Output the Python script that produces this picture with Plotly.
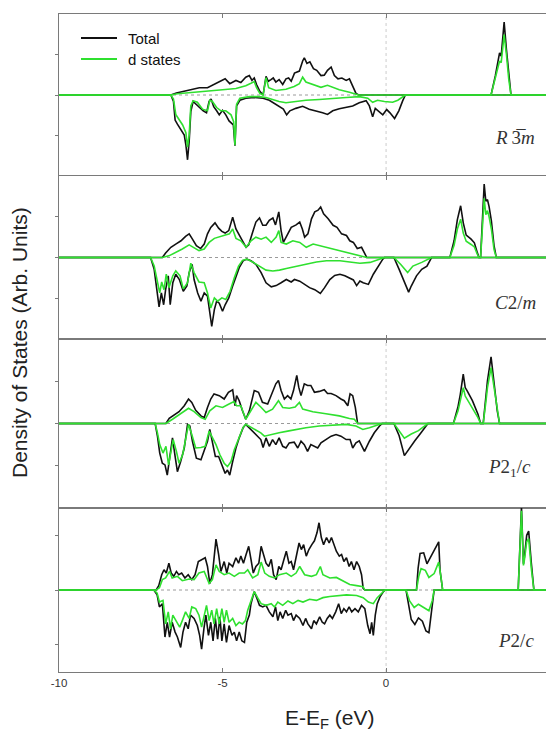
import plotly.graph_objects as go
from plotly.subplots import make_subplots

# ---------------- data: (E - E_F [eV], DOS [arb. units]) ----------------
p1_up_total = [(-10,0),(-6.58,0),(-6.41,0.05),(-6.22,0.09),(-6.02,0.12),(-5.71,0.18),(-5.46,0.18),(-5.26,0.26),(-5.10,0.32),(-4.92,0.40),(-4.78,0.28),(-4.59,0.36),(-4.44,0.31),(-4.29,0.44),(-4.18,0.48),(-4.10,0.36),(-4.03,0.42),(-3.96,0.26),(-3.86,0.09),(-3.76,0),(-3.67,0.46),(-3.60,0.34),(-3.52,0.38),(-3.45,0.42),(-3.37,0.32),(-3.27,0.38),(-3.16,0.26),(-3.06,0.40),(-2.98,0.42),(-2.90,0.34),(-2.80,0.54),(-2.65,0.59),(-2.55,0.84),(-2.50,0.92),(-2.42,0.78),(-2.33,0.82),(-2.22,0.65),(-2.12,0.61),(-1.99,0.48),(-1.89,0.49),(-1.79,0.61),(-1.68,0.69),(-1.58,0.48),(-1.47,0.40),(-1.35,0.42),(-1.22,0.36),(-1.12,0.40),(-1.02,0.23),(-0.92,0.04),(-0.84,0),(3.21,0),(3.34,0.47),(3.47,1.04),(3.52,0.96),(3.57,1.45),(3.61,1.80),(3.68,1.12),(3.75,0.47),(3.82,0),(5,0)]
p1_up_d = [(-10,0),(-6.58,0),(-6.38,0.03),(-6.02,0.06),(-5.51,0.09),(-5.00,0.13),(-4.59,0.16),(-4.29,0.23),(-4.13,0.29),(-4.03,0.33),(-3.96,0.18),(-3.86,0.04),(-3.76,0),(-3.67,0.43),(-3.59,0.18),(-3.37,0.11),(-3.06,0.14),(-2.81,0.21),(-2.65,0.28),(-2.55,0.44),(-2.45,0.32),(-2.24,0.26),(-1.99,0.19),(-1.79,0.24),(-1.63,0.19),(-1.43,0.13),(-1.12,0.07),(-0.84,0),(3.21,0),(3.34,0.40),(3.47,0.84),(3.52,0.80),(3.57,1.20),(3.61,1.49),(3.68,1.00),(3.75,0.40),(3.82,0),(5,0)]
p1_dn_total = [(-10,0),(-6.58,0),(-6.50,-0.16),(-6.45,-0.62),(-6.38,-0.72),(-6.28,-0.85),(-6.17,-0.99),(-6.12,-1.24),(-6.07,-1.60),(-6.02,-1.14),(-5.97,-0.41),(-5.90,-0.16),(-5.80,-0.24),(-5.69,-0.32),(-5.59,-0.39),(-5.49,-0.44),(-5.41,-0.16),(-5.35,-0.10),(-5.27,-0.29),(-5.18,-0.39),(-5.10,-0.49),(-5.00,-0.38),(-4.90,-0.49),(-4.80,-0.64),(-4.67,-0.74),(-4.62,-1.25),(-4.57,-0.27),(-4.47,-0.13),(-4.29,-0.08),(-4.03,-0.06),(-3.76,-0.08),(-3.57,-0.13),(-3.42,-0.21),(-3.27,-0.28),(-3.14,-0.35),(-3.04,-0.49),(-2.94,-0.39),(-2.76,-0.33),(-2.55,-0.28),(-2.35,-0.35),(-2.14,-0.39),(-1.94,-0.44),(-1.79,-0.48),(-1.63,-0.39),(-1.43,-0.34),(-1.22,-0.31),(-1.02,-0.27),(-0.82,-0.19),(-0.61,-0.14),(-0.51,-0.27),(-0.41,-0.54),(-0.33,-0.33),(-0.22,-0.41),(-0.10,-0.49),(0.02,-0.36),(0.12,-0.44),(0.26,-0.58),(0.39,-0.39),(0.51,-0.14),(0.59,0),(5,0)]
p1_dn_d = [(-10,0),(-6.58,0),(-6.50,-0.10),(-6.43,-0.48),(-6.35,-0.58),(-6.22,-0.74),(-6.12,-0.93),(-6.07,-1.29),(-6.02,-0.99),(-5.97,-0.27),(-5.90,-0.14),(-5.77,-0.18),(-5.61,-0.35),(-5.46,-0.39),(-5.39,-0.13),(-5.31,-0.16),(-5.18,-0.31),(-5.05,-0.39),(-4.90,-0.39),(-4.74,-0.49),(-4.66,-0.66),(-4.62,-1.24),(-4.57,-0.23),(-4.47,-0.08),(-4.18,-0.04),(-3.88,-0.04),(-3.67,-0.06),(-3.47,-0.11),(-3.27,-0.16),(-3.06,-0.19),(-2.76,-0.16),(-2.45,-0.13),(-2.04,-0.11),(-1.63,-0.08),(-1.22,-0.06),(-0.82,-0.04),(-0.56,-0.08),(-0.41,-0.18),(-0.26,-0.13),(-0.05,-0.16),(0.20,-0.18),(0.36,-0.13),(0.51,-0.04),(0.59,0),(5,0)]

p2_up_total = [(-10,0),(-6.84,0),(-6.74,0.11),(-6.58,0.25),(-6.43,0.33),(-6.27,0.41),(-6.13,0.52),(-6.02,0.58),(-5.92,0.45),(-5.80,0.29),(-5.67,0.22),(-5.56,0.33),(-5.46,0.58),(-5.36,0.74),(-5.23,0.85),(-5.12,0.72),(-5.02,0.64),(-4.92,0.60),(-4.81,0.66),(-4.69,0.99),(-4.59,0.70),(-4.49,0.54),(-4.39,0.41),(-4.28,0.25),(-4.20,0.31),(-4.08,0.62),(-3.98,0.87),(-3.87,0.97),(-3.77,0.79),(-3.67,0.79),(-3.57,0.91),(-3.46,0.97),(-3.38,0.80),(-3.28,1.12),(-3.21,0.66),(-3.14,0.37),(-3.05,0.50),(-2.90,0.74),(-2.75,0.80),(-2.64,0.87),(-2.56,0.70),(-2.49,0.50),(-2.39,0.58),(-2.28,0.95),(-2.18,1.12),(-2.08,1.16),(-2.00,1.24),(-1.91,1.07),(-1.77,0.95),(-1.62,0.79),(-1.50,0.74),(-1.36,0.58),(-1.21,0.54),(-1.11,0.41),(-1.00,0.37),(-0.88,0.22),(-0.75,0.25),(-0.65,0.08),(-0.59,0),(1.95,0),(2.08,0.41),(2.18,0.93),(2.28,1.27),(2.36,0.85),(2.45,0.55),(2.60,0.45),(2.70,0.36),(2.79,0.12),(2.84,0),(2.89,0),(2.95,0.90),(3.00,1.80),(3.05,1.38),(3.10,1.42),(3.15,1.25),(3.22,0.90),(3.30,0.30),(3.37,0),(5,0)]
p2_up_d = [(-10,0),(-6.84,0),(-6.64,0.04),(-6.43,0.12),(-6.23,0.21),(-6.02,0.31),(-5.87,0.25),(-5.72,0.17),(-5.56,0.21),(-5.41,0.37),(-5.25,0.47),(-5.10,0.50),(-4.95,0.54),(-4.79,0.58),(-4.69,0.70),(-4.59,0.47),(-4.44,0.41),(-4.28,0.25),(-4.13,0.41),(-3.98,0.50),(-3.82,0.45),(-3.67,0.50),(-3.51,0.37),(-3.36,0.50),(-3.28,0.66),(-3.21,0.37),(-3.05,0.33),(-2.85,0.41),(-2.64,0.37),(-2.44,0.25),(-2.23,0.33),(-2.03,0.29),(-1.72,0.22),(-1.41,0.17),(-1.11,0.11),(-0.80,0.04),(-0.59,0),(1.95,0),(2.08,0.30),(2.18,0.70),(2.28,0.94),(2.36,0.60),(2.45,0.40),(2.60,0.32),(2.70,0.26),(2.79,0.08),(2.84,0),(2.89,0),(2.95,0.70),(3.00,1.45),(3.05,1.05),(3.10,1.15),(3.15,1.00),(3.22,0.70),(3.30,0.20),(3.37,0),(5,0)]
p2_dn_total = [(-10,0),(-7.20,0),(-7.09,-0.29),(-7.02,-0.79),(-6.94,-1.21),(-6.87,-0.87),(-6.80,-1.16),(-6.74,-0.79),(-6.66,-0.45),(-6.60,-1.16),(-6.52,-0.62),(-6.43,-0.41),(-6.32,-0.54),(-6.20,-0.83),(-6.09,-0.70),(-6.02,-0.37),(-5.93,-0.17),(-5.87,-0.54),(-5.76,-0.87),(-5.66,-1.07),(-5.56,-0.87),(-5.46,-0.95),(-5.39,-1.36),(-5.33,-1.69),(-5.25,-1.28),(-5.18,-1.07),(-5.10,-1.12),(-5.00,-1.32),(-4.92,-1.16),(-4.81,-0.99),(-4.69,-0.70),(-4.59,-0.45),(-4.49,-0.25),(-4.37,-0.08),(-4.26,-0.04),(-4.13,-0.08),(-3.98,-0.17),(-3.82,-0.37),(-3.67,-0.62),(-3.51,-0.72),(-3.36,-0.69),(-3.21,-0.62),(-3.05,-0.54),(-2.90,-0.60),(-2.80,-0.54),(-2.64,-0.58),(-2.49,-0.66),(-2.34,-0.74),(-2.18,-0.79),(-2.01,-0.88),(-1.88,-0.74),(-1.72,-0.54),(-1.57,-0.44),(-1.41,-0.41),(-1.26,-0.45),(-1.11,-0.50),(-1.00,-0.55),(-0.90,-0.69),(-0.80,-0.58),(-0.70,-0.62),(-0.54,-0.66),(-0.39,-0.41),(-0.24,-0.21),(-0.10,-0.04),(-0.05,0),(0.24,0),(0.40,-0.29),(0.56,-0.58),(0.69,-0.85),(0.77,-0.70),(0.93,-0.45),(1.09,-0.29),(1.25,-0.21),(1.39,0),(5,0)]
p2_dn_d = [(-10,0),(-7.20,0),(-7.09,-0.21),(-6.99,-0.62),(-6.92,-0.87),(-6.86,-0.60),(-6.79,-0.79),(-6.72,-0.41),(-6.64,-0.74),(-6.52,-0.45),(-6.43,-0.33),(-6.30,-0.45),(-6.20,-0.77),(-6.07,-0.62),(-5.97,-0.14),(-5.87,-0.37),(-5.72,-0.60),(-5.56,-0.62),(-5.46,-0.87),(-5.36,-1.24),(-5.25,-0.99),(-5.15,-1.07),(-5.02,-0.99),(-4.90,-1.03),(-4.77,-0.83),(-4.64,-0.50),(-4.51,-0.21),(-4.39,-0.07),(-4.26,-0.04),(-4.08,-0.11),(-3.87,-0.21),(-3.67,-0.31),(-3.46,-0.33),(-3.26,-0.31),(-3.05,-0.27),(-2.75,-0.22),(-2.44,-0.17),(-2.13,-0.11),(-1.82,-0.08),(-1.41,-0.08),(-1.11,-0.11),(-0.80,-0.14),(-0.49,-0.12),(-0.24,-0.06),(-0.05,0),(0.24,0),(0.45,-0.17),(0.66,-0.37),(0.82,-0.21),(1.09,-0.12),(1.39,0),(5,0)]

p3_up_total = [(-10,0),(-6.73,0),(-6.63,0.12),(-6.48,0.20),(-6.33,0.28),(-6.17,0.42),(-6.04,0.58),(-5.94,0.50),(-5.82,0.31),(-5.66,0.18),(-5.56,0.14),(-5.46,0.38),(-5.36,0.58),(-5.26,0.70),(-5.10,0.66),(-4.95,0.58),(-4.82,0.74),(-4.69,0.80),(-4.62,0.42),(-4.57,0.66),(-4.49,0.54),(-4.39,0.30),(-4.29,0.10),(-4.18,0.30),(-4.03,0.78),(-3.90,0.74),(-3.78,0.50),(-3.62,0.46),(-3.47,0.74),(-3.37,0.94),(-3.29,1.02),(-3.21,0.78),(-3.11,0.58),(-3.01,0.66),(-2.91,0.58),(-2.83,0.78),(-2.73,1.14),(-2.67,0.86),(-2.60,0.66),(-2.50,0.94),(-2.40,0.90),(-2.30,0.90),(-2.19,0.74),(-2.04,0.76),(-1.89,0.80),(-1.79,0.71),(-1.68,0.71),(-1.53,0.66),(-1.38,0.58),(-1.28,0.54),(-1.17,0.42),(-1.10,0.70),(-1.02,0.66),(-0.94,0.38),(-0.87,0),(2.06,0),(2.20,0.40),(2.27,0.69),(2.36,1.17),(2.42,0.85),(2.48,0.77),(2.64,0.54),(2.81,0.22),(2.89,0),(2.97,0),(3.05,0.60),(3.10,1.01),(3.21,1.58),(3.28,1.10),(3.34,0.77),(3.40,0.30),(3.47,0),(5,0)]
p3_up_d = [(-10,0),(-6.73,0),(-6.53,0.10),(-6.22,0.26),(-6.04,0.36),(-5.87,0.28),(-5.66,0.14),(-5.53,0.10),(-5.39,0.30),(-5.20,0.42),(-5.00,0.38),(-4.80,0.46),(-4.65,0.52),(-4.57,0.42),(-4.44,0.42),(-4.29,0.10),(-4.13,0.30),(-3.98,0.50),(-3.83,0.39),(-3.67,0.26),(-3.47,0.34),(-3.29,0.54),(-3.16,0.38),(-2.96,0.36),(-2.78,0.39),(-2.65,0.50),(-2.55,0.34),(-2.24,0.28),(-1.84,0.23),(-1.43,0.18),(-1.12,0.12),(-0.97,0.10),(-0.87,0),(2.06,0),(2.20,0.30),(2.27,0.55),(2.36,0.85),(2.42,0.65),(2.48,0.57),(2.64,0.38),(2.81,0.14),(2.89,0),(2.97,0),(3.05,0.50),(3.10,0.85),(3.21,1.32),(3.28,0.95),(3.34,0.65),(3.40,0.25),(3.47,0),(5,0)]
p3_dn_total = [(-10,0),(-7.06,0),(-6.99,-0.30),(-6.92,-0.70),(-6.84,-0.94),(-6.76,-0.98),(-6.69,-1.22),(-6.61,-0.78),(-6.53,-0.34),(-6.45,-0.78),(-6.38,-1.14),(-6.28,-0.90),(-6.17,-0.58),(-6.07,-0.02),(-6.00,-0.06),(-5.92,-0.42),(-5.80,-0.82),(-5.66,-0.86),(-5.56,-0.66),(-5.46,-0.42),(-5.39,-0.14),(-5.31,-0.42),(-5.22,-0.78),(-5.12,-0.78),(-5.02,-0.98),(-4.92,-1.18),(-4.85,-1.10),(-4.78,-1.22),(-4.69,-0.90),(-4.59,-0.58),(-4.49,-0.34),(-4.37,-0.10),(-4.29,-0.02),(-4.13,-0.14),(-3.98,-0.26),(-3.83,-0.38),(-3.76,-0.57),(-3.67,-0.34),(-3.57,-0.54),(-3.47,-0.38),(-3.37,-0.50),(-3.27,-0.34),(-3.16,-0.54),(-3.06,-0.58),(-2.96,-0.46),(-2.81,-0.44),(-2.70,-0.58),(-2.60,-0.42),(-2.50,-0.50),(-2.40,-0.66),(-2.30,-0.50),(-2.19,-0.54),(-2.09,-0.58),(-1.99,-0.46),(-1.84,-0.38),(-1.68,-0.30),(-1.53,-0.26),(-1.38,-0.30),(-1.22,-0.38),(-1.10,-0.38),(-1.02,-0.58),(-0.92,-0.46),(-0.82,-0.41),(-0.66,-0.66),(-0.51,-0.42),(-0.36,-0.22),(-0.20,-0.06),(-0.12,0),(0.24,0),(0.40,-0.29),(0.56,-0.76),(0.72,-0.57),(0.88,-0.41),(1.04,-0.25),(1.20,-0.09),(1.28,0),(5,0)]
p3_dn_d = [(-10,0),(-7.06,0),(-6.99,-0.22),(-6.92,-0.50),(-6.82,-0.70),(-6.73,-0.54),(-6.65,-0.98),(-6.58,-0.70),(-6.51,-0.38),(-6.41,-0.66),(-6.33,-0.94),(-6.22,-0.74),(-6.12,-0.34),(-6.04,-0.02),(-5.94,-0.26),(-5.82,-0.58),(-5.66,-0.57),(-5.53,-0.54),(-5.41,-0.18),(-5.31,-0.34),(-5.20,-0.50),(-5.08,-0.74),(-4.95,-0.94),(-4.85,-1.02),(-4.74,-0.90),(-4.64,-0.62),(-4.51,-0.34),(-4.37,-0.09),(-4.29,-0.02),(-4.13,-0.09),(-3.98,-0.17),(-3.83,-0.22),(-3.72,-0.30),(-3.52,-0.26),(-3.27,-0.22),(-3.01,-0.18),(-2.76,-0.14),(-2.45,-0.10),(-2.04,-0.06),(-1.63,-0.04),(-1.22,-0.02),(-0.92,-0.06),(-0.71,-0.14),(-0.51,-0.10),(-0.31,-0.04),(-0.12,0),(0.24,0),(0.40,-0.17),(0.56,-0.35),(0.77,-0.25),(0.99,-0.17),(1.28,0),(5,0)]

p4_up_total = [(-10,0),(-7.03,0),(-6.95,0.08),(-6.86,0.28),(-6.79,0.37),(-6.72,0.31),(-6.64,0.49),(-6.57,0.31),(-6.49,0.25),(-6.41,0.34),(-6.34,0.28),(-6.25,0.31),(-6.15,0.22),(-6.05,0.28),(-5.94,0.19),(-5.84,0.28),(-5.74,0.52),(-5.64,0.56),(-5.53,0.59),(-5.46,0.43),(-5.39,0.12),(-5.31,0.28),(-5.20,0.93),(-5.12,0.65),(-5.05,0.34),(-4.95,0.52),(-4.87,0.31),(-4.80,0.49),(-4.69,0.43),(-4.59,0.59),(-4.51,0.49),(-4.44,0.62),(-4.36,0.49),(-4.28,0.65),(-4.20,0.80),(-4.13,0.56),(-4.06,0.31),(-3.98,0.43),(-3.89,0.49),(-3.82,0.80),(-3.75,0.65),(-3.67,0.49),(-3.59,0.43),(-3.51,0.56),(-3.44,0.28),(-3.36,0.19),(-3.28,0.43),(-3.21,0.37),(-3.14,0.52),(-3.05,0.71),(-2.97,0.49),(-2.90,0.52),(-2.83,0.37),(-2.75,0.59),(-2.66,0.86),(-2.59,0.74),(-2.52,0.83),(-2.44,0.62),(-2.36,0.74),(-2.27,0.83),(-2.19,0.90),(-2.11,1.05),(-2.05,1.23),(-1.98,0.96),(-1.91,0.83),(-1.82,0.96),(-1.74,0.86),(-1.67,0.96),(-1.60,0.83),(-1.52,0.71),(-1.43,0.62),(-1.36,0.65),(-1.29,0.52),(-1.21,0.59),(-1.13,0.43),(-1.06,0.52),(-0.98,0.37),(-0.90,0.52),(-0.82,0.43),(-0.75,0.28),(-0.70,0.03),(-0.65,0),(0.93,0),(0.98,0.40),(1.04,0.67),(1.15,0.68),(1.25,0.48),(1.36,0.60),(1.52,0.79),(1.61,0.88),(1.65,0.36),(1.73,0),(4.04,0),(4.09,0.80),(4.14,1.52),(4.20,0.48),(4.23,0.60),(4.30,1.00),(4.36,1.08),(4.44,0.50),(4.52,0),(5,0)]
p4_up_d = [(-10,0),(-7.03,0),(-6.93,0.04),(-6.84,0.19),(-6.74,0.22),(-6.62,0.34),(-6.54,0.22),(-6.38,0.25),(-6.23,0.17),(-6.02,0.20),(-5.87,0.19),(-5.72,0.31),(-5.56,0.34),(-5.41,0.12),(-5.31,0.19),(-5.20,0.46),(-5.10,0.34),(-4.95,0.28),(-4.80,0.31),(-4.64,0.25),(-4.49,0.31),(-4.33,0.31),(-4.23,0.37),(-4.08,0.22),(-3.92,0.28),(-3.82,0.51),(-3.71,0.31),(-3.57,0.25),(-3.41,0.22),(-3.26,0.28),(-3.05,0.31),(-2.90,0.25),(-2.75,0.31),(-2.64,0.43),(-2.49,0.28),(-2.28,0.25),(-2.13,0.28),(-2.01,0.43),(-1.93,0.28),(-1.72,0.22),(-1.52,0.23),(-1.31,0.17),(-1.11,0.10),(-0.90,0.08),(-0.70,0.06),(-0.65,0),(0.93,0),(1.00,0.25),(1.07,0.39),(1.20,0.36),(1.31,0.23),(1.47,0.30),(1.61,0.51),(1.68,0.23),(1.73,0),(4.04,0),(4.09,0.75),(4.14,1.45),(4.20,0.45),(4.23,0.55),(4.30,0.88),(4.36,0.94),(4.44,0.40),(4.52,0),(5,0)]
p4_dn_total = [(-10,0),(-7.10,0),(-7.00,-0.09),(-6.93,-0.31),(-6.84,-0.25),(-6.76,-0.86),(-6.69,-0.59),(-6.62,-0.86),(-6.54,-0.59),(-6.45,-0.77),(-6.38,-0.86),(-6.28,-1.05),(-6.21,-0.77),(-6.13,-0.59),(-6.05,-0.71),(-5.98,-0.46),(-5.87,-0.52),(-5.77,-0.65),(-5.70,-0.83),(-5.64,-1.08),(-5.57,-0.71),(-5.51,-0.46),(-5.43,-0.83),(-5.36,-0.59),(-5.29,-0.93),(-5.22,-0.52),(-5.15,-0.90),(-5.08,-0.49),(-5.02,-0.93),(-4.95,-0.62),(-4.88,-0.96),(-4.80,-0.65),(-4.71,-0.83),(-4.64,-0.77),(-4.57,-0.93),(-4.49,-0.77),(-4.41,-0.93),(-4.33,-0.96),(-4.26,-0.59),(-4.18,-0.46),(-4.13,-0.25),(-4.03,-0.03),(-3.95,-0.15),(-3.87,-0.28),(-3.77,-0.31),(-3.67,-0.28),(-3.57,-0.40),(-3.46,-0.49),(-3.38,-0.31),(-3.31,-0.56),(-3.24,-0.40),(-3.16,-0.52),(-3.07,-0.37),(-3.00,-0.46),(-2.90,-0.43),(-2.83,-0.56),(-2.75,-0.46),(-2.64,-0.52),(-2.54,-0.65),(-2.46,-0.52),(-2.39,-0.62),(-2.28,-0.71),(-2.21,-0.56),(-2.13,-0.62),(-2.03,-0.49),(-1.95,-0.59),(-1.88,-0.62),(-1.80,-0.52),(-1.72,-0.46),(-1.64,-0.52),(-1.54,-0.40),(-1.45,-0.25),(-1.37,-0.43),(-1.29,-0.34),(-1.21,-0.40),(-1.13,-0.31),(-1.05,-0.40),(-0.95,-0.34),(-0.85,-0.40),(-0.75,-0.28),(-0.65,-0.34),(-0.56,-0.65),(-0.49,-0.80),(-0.44,-0.59),(-0.39,-0.83),(-0.33,-0.46),(-0.27,-0.25),(-0.18,-0.12),(-0.08,-0.03),(-0.03,0),(0.61,0),(0.69,-0.29),(0.77,-0.54),(0.88,-0.63),(0.99,-0.51),(1.11,-0.57),(1.22,-0.75),(1.31,-0.78),(1.39,-0.38),(1.47,0),(5,0)]
p4_dn_d = [(-10,0),(-7.10,0),(-7.00,-0.06),(-6.93,-0.22),(-6.82,-0.19),(-6.74,-0.62),(-6.66,-0.40),(-6.59,-0.71),(-6.52,-0.46),(-6.41,-0.59),(-6.31,-0.68),(-6.23,-0.56),(-6.13,-0.40),(-6.02,-0.52),(-5.94,-0.31),(-5.82,-0.34),(-5.72,-0.46),(-5.64,-0.68),(-5.57,-0.46),(-5.49,-0.28),(-5.41,-0.56),(-5.33,-0.37),(-5.26,-0.62),(-5.18,-0.34),(-5.10,-0.62),(-5.02,-0.34),(-4.95,-0.59),(-4.88,-0.37),(-4.80,-0.59),(-4.69,-0.52),(-4.59,-0.65),(-4.49,-0.59),(-4.39,-0.62),(-4.30,-0.56),(-4.23,-0.37),(-4.13,-0.19),(-4.03,-0.03),(-3.92,-0.15),(-3.82,-0.25),(-3.67,-0.28),(-3.51,-0.25),(-3.41,-0.31),(-3.31,-0.22),(-3.16,-0.28),(-3.00,-0.20),(-2.85,-0.25),(-2.69,-0.19),(-2.54,-0.22),(-2.34,-0.17),(-2.13,-0.19),(-1.93,-0.14),(-1.72,-0.12),(-1.47,-0.10),(-1.21,-0.09),(-0.90,-0.10),(-0.70,-0.14),(-0.54,-0.22),(-0.39,-0.25),(-0.27,-0.14),(-0.13,-0.06),(-0.03,0),(0.61,0),(0.72,-0.20),(0.86,-0.32),(0.99,-0.26),(1.15,-0.32),(1.31,-0.38),(1.41,-0.20),(1.47,0),(5,0)]

panel_labels = ["<i>R</i>\u2009<span>3\u0305</span><i>m</i>", "<i>C</i>2/<i>m</i>",
                "<i>P</i>2<sub>1</sub>/<i>c</i>", "<i>P</i>2/<i>c</i>"]
label_x = [3.95, 3.95, 3.77, 3.98]          # E position of panel labels
label_y = [0.24, 0.226, 0.236, 0.19]         # fraction of panel height
x_ticks = [-10, -5, 0, 5]
x_tick_labels = ["-10", "-5", "0", "5"]
y_half_ranges = [2.0, 2.0, 2.0, 1.5]
legend_names = ["Total", "d states"]

panels = [
    (p1_up_total, p1_up_d, p1_dn_total, p1_dn_d),
    (p2_up_total, p2_up_d, p2_dn_total, p2_dn_d),
    (p3_up_total, p3_up_d, p3_dn_total, p3_dn_d),
    (p4_up_total, p4_up_d, p4_dn_total, p4_dn_d),
]

# ---------------- styling ----------------
BLACK = "#111111"
GREEN = "#2fe02f"
AXIS = "#7a7a7a"
W, H = 546, 731
L, R, T, B = 59, 0, 14, 59
X_MAX = 4.89
PW, PH = W - L - R, H - T - B

fig = make_subplots(rows=4, cols=1, shared_xaxes=True, vertical_spacing=0,
                    row_heights=[162, 163, 169, 164])

for i, (upt, upd, dnt, dnd) in enumerate(panels):
    row = i + 1
    for series, color, name in [(upt, BLACK, legend_names[0]),
                                (dnt, BLACK, legend_names[0]),
                                (upd, GREEN, legend_names[1]),
                                (dnd, GREEN, legend_names[1])]:
        fig.add_trace(go.Scatter(x=[p[0] for p in series], y=[p[1] for p in series],
                                 mode="lines", name=name, showlegend=False,
                                 line=dict(color=color, width=1.6)),
                      row=row, col=1)
    h = y_half_ranges[i]
    fig.update_yaxes(range=[-h, h], tickvals=[-1, 0, 1], showticklabels=False,
                     ticks="outside", ticklen=3, tickcolor=AXIS,
                     showline=True, linecolor=AXIS, linewidth=1.2, mirror=False,
                     showgrid=False, zeroline=False, automargin=False, row=row, col=1)
    fig.update_xaxes(range=[-10, X_MAX], tickvals=x_ticks, ticktext=x_tick_labels,
                     ticks="inside", ticklen=4, tickcolor=AXIS,
                     showline=True, linecolor=AXIS, linewidth=1.2, mirror="ticks",
                     showgrid=False, zeroline=False, automargin=False,
                     showticklabels=(row == 4),
                     tickfont=dict(family="Liberation Sans", size=11.5, color="#333333"),
                     row=row, col=1)
    yref = "y" if i == 0 else f"y{i+1}"
    xref = "x" if i == 0 else f"x{i+1}"
    fig.add_shape(type="line", xref=xref, yref=yref, x0=-10, x1=X_MAX, y0=0, y1=0,
                  line=dict(color="#9a9a9a", width=1, dash="dot"), layer="below")
    fig.add_shape(type="line", xref=xref, yref=f"{yref} domain", x0=0, x1=0, y0=0, y1=1,
                  line=dict(color="#cccccc", width=1, dash="dot"), layer="below")
    fig.add_annotation(text=panel_labels[i], xref=xref, yref=f"{yref} domain",
                       x=label_x[i], y=label_y[i], xanchor="center", yanchor="middle",
                       showarrow=False,
                       font=dict(family="Liberation Serif", size=19, color="#333333"))

# legend drawn as line samples + text
for k, (name, color, ypx) in enumerate([(legend_names[0], BLACK, 38), (legend_names[1], GREEN, 59)]):
    yp = (H - B - ypx) / PH
    fig.add_shape(type="line", xref="paper", yref="paper",
                  x0=(81 - L) / PW, x1=(117 - L) / PW, y0=yp, y1=yp,
                  line=dict(color=color, width=1.8))
    fig.add_annotation(text=name, xref="paper", yref="paper", x=(126 - L) / PW, y=yp,
                       xanchor="left", yanchor="middle", showarrow=False,
                       font=dict(family="Liberation Sans", size=15, color="#111111"))

fig.add_annotation(text="Density of States (Arb. Units)", xref="paper", yref="paper",
                   x=-(L - 19) / PW, y=0.5, xanchor="center", yanchor="middle",
                   textangle=-90, showarrow=False,
                   font=dict(family="Liberation Sans", size=21, color="#222222"))
fig.add_annotation(text="E-E<sub>F</sub> (eV)", xref="x4", yref="paper",
                   x=-1.7, y=-(719 - (H - B)) / PH, xanchor="center", yanchor="middle",
                   showarrow=False,
                   font=dict(family="Liberation Sans", size=21, color="#222222"))

fig.update_layout(
    width=W, height=H,
    margin=dict(l=L, r=R, t=T, b=B),
    paper_bgcolor="white", plot_bgcolor="white",
    showlegend=False,
)

fig.write_html("out.html", config={"displayModeBar": False},
               post_script="document.body.style.margin='0';document.body.style.overflow='hidden';")
